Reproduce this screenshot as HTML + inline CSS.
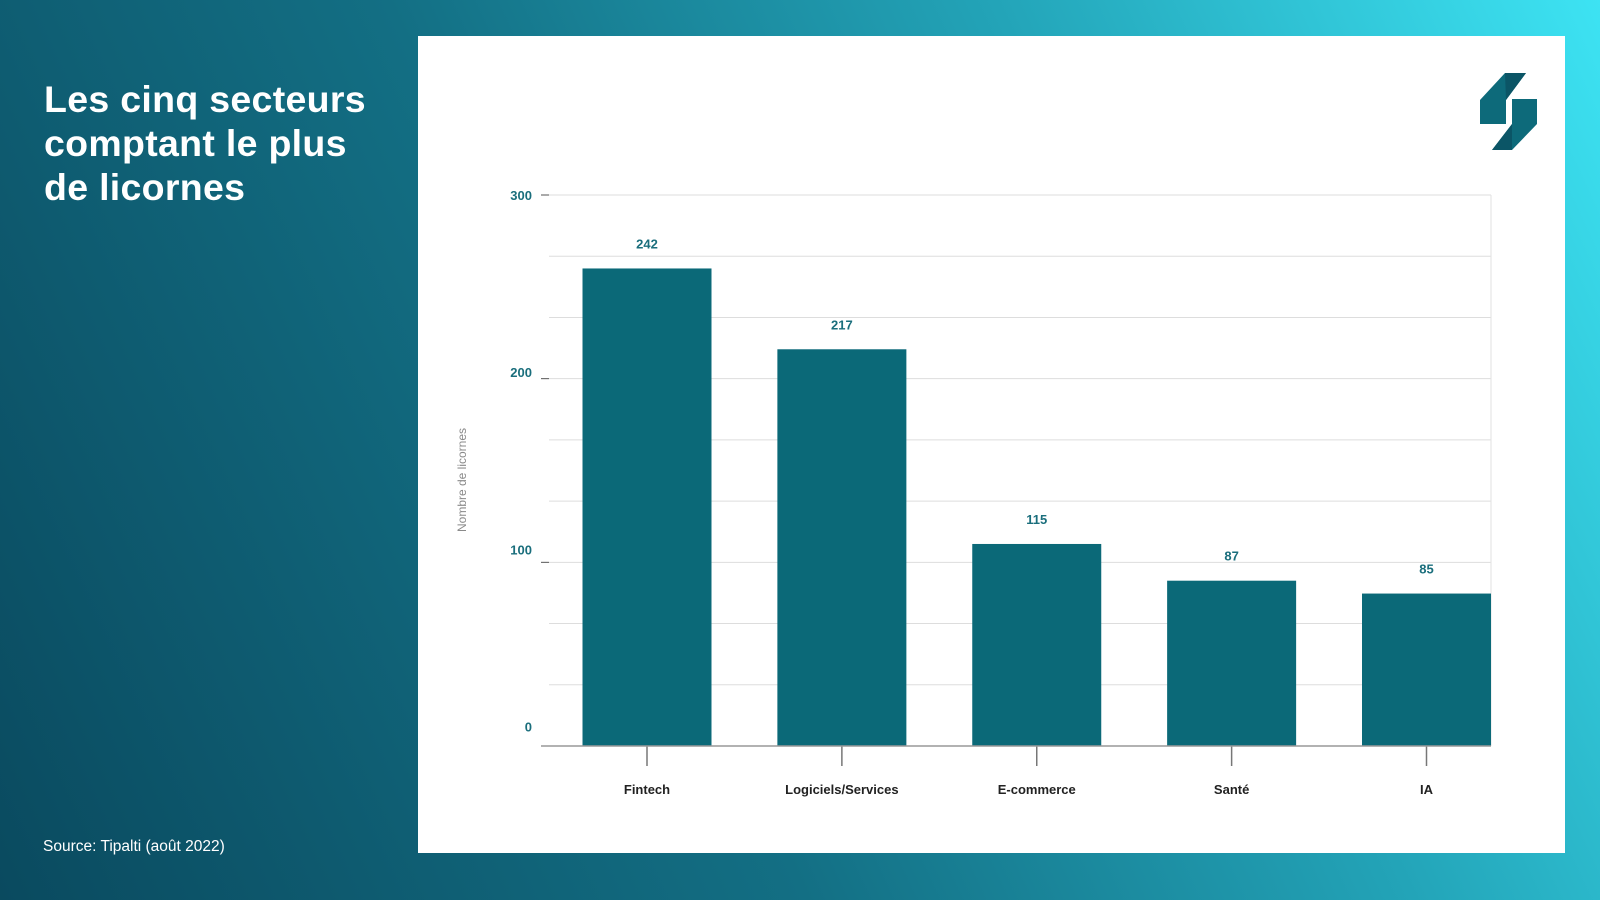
<!DOCTYPE html>
<html><head><meta charset="utf-8">
<style>
html,body{margin:0;padding:0;width:1600px;height:900px;overflow:hidden}
body{background:linear-gradient(65deg,#0a4a5f 0%,#136f84 40%,#23a4b8 70%,#3de3f3 100%);font-family:"Liberation Sans",sans-serif;position:relative}
#title{position:absolute;left:44px;top:77px;color:#fff;font-weight:bold;font-size:37.5px;line-height:44px;margin:0;letter-spacing:0.3px}
#source{position:absolute;left:43px;top:838px;color:#fff;font-size:15.5px}
#panel{position:absolute;left:418px;top:36px;width:1147px;height:817px;background:#fff}
svg{position:absolute;left:0;top:0}
</style></head><body>
<h1 id="title">Les cinq secteurs<br>comptant le plus<br>de licornes</h1>
<div id="source">Source: Tipalti (août 2022)</div>
<div id="panel"></div>
<svg id="chart" width="1600" height="900">
  <g>
    <polygon points="1480,100 1505,73 1526,73 1506,100 1506,124 1480,124" fill="#0d6a7a"/>
    <polygon points="1505,73 1526,73 1506,100" fill="#0b5566"/>
    <polygon points="1512,99 1537,99 1537,124 1512,150 1492,150 1512,124" fill="#0d6a7a"/>
    <polygon points="1492,150 1512,124 1512,150" fill="#0b5566"/>
  </g>
</svg>
<script>
const categories=["Fintech","Logiciels/Services","E-commerce","Santé","IA"];
const values=[260,216,110,90,83];
const valueLabels=["242","217","115","87","85"];
const yTicks=[0,100,200,300];
const NS="http://www.w3.org/2000/svg";
const svg=document.getElementById('chart');
const x0=549,x1=1491,yb=746,yt=195,yMax=300;
const y=v=>yb-(v/yMax)*(yb-yt);
const yl=v=>yt+(1-v/yMax)*(yb-yt)*0.965;
const bw=129;
function el(t,a,p){const e=document.createElementNS(NS,t);for(const k in a)e.setAttribute(k,a[k]);(p||svg).appendChild(e);return e;}
for(let k=1;k<=9;k++){const v=k*yMax/9;
 const g=el('line',{x1:x0,x2:x1,y1:y(v),y2:y(v),stroke:'#dddddd','stroke-width':1});
 
 }
const rb=el('line',{x1:x1,x2:x1,y1:yt,y2:yb,stroke:'#e2e2e2','stroke-width':1});


yTicks.forEach(t=>{
 const tx=el('text',{x:532,y:yl(t)+5,'text-anchor':'end','font-size':13,'font-weight':'bold',fill:'#1a6e7c'});
 tx.textContent=t;
 
 
 const tm=el('line',{x1:541,x2:549,y1:y(t),y2:y(t),stroke:'#555','stroke-width':1});
 
 
});
const yt2=el('text',{x:0,y:0,transform:'translate(466,480) rotate(-90)','text-anchor':'middle','font-size':12,fill:'#8a8a8a'});
yt2.textContent='Nombre de licornes';


const firstC=647;
const cx=i=>firstC+i*((x1-bw/2)-firstC)/(categories.length-1);
categories.forEach((c,i)=>{
 const m=cx(i);
 const b=el('rect',{x:m-bw/2,y:y(values[i]),width:bw,height:yb-y(values[i]),fill:'#0b6978'});
 
 
 const vl=el('text',{x:m,y:y(values[i])-20,'text-anchor':'middle','font-size':13,'font-weight':'bold',fill:'#1a6e7c'});
 vl.textContent=valueLabels[i];
 
 
 const tk=el('line',{x1:m,x2:m,y1:yb,y2:yb+20,stroke:'#777','stroke-width':1.5});
 
 
 const cl=el('text',{x:m,y:794,'text-anchor':'middle','font-size':13,'font-weight':'bold',fill:'#222'});
 cl.textContent=c;
 
 
});
const ax=el('line',{x1:541,x2:x1,y1:yb,y2:yb,stroke:'#999','stroke-width':1.5});


</script>
</body></html>
